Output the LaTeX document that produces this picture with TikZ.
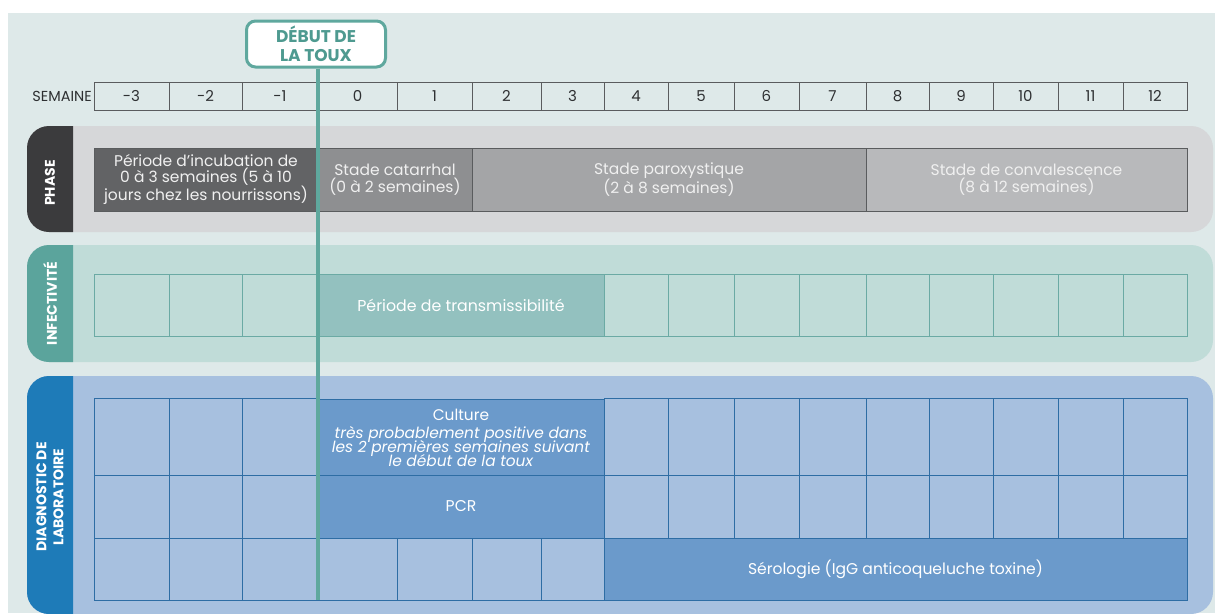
\documentclass[tikz,border=0pt]{standalone}
\usepackage{fontspec}
\setmainfont{Poppins}
\newcommand\mytightlines{\lineskiplimit=-20pt\relax\lineskip=0pt\relax}
\definecolor{bg}{HTML}{DEE9E9}
\definecolor{hdrline}{HTML}{5A5C5E}
\definecolor{dark}{HTML}{2E3032}
\definecolor{phband}{HTML}{D6D7D9}
\definecolor{phtab}{HTML}{3B3B3D}
\definecolor{phA}{HTML}{626365}
\definecolor{phB}{HTML}{8E8F91}
\definecolor{phC}{HTML}{A4A5A7}
\definecolor{phD}{HTML}{B8B9BB}
\definecolor{phtext}{HTML}{F0F0F0}
\definecolor{inband}{HTML}{C0DCD8}
\definecolor{intab}{HTML}{5BA49C}
\definecolor{inline}{HTML}{6BAAA4}
\definecolor{infill}{HTML}{93C1BF}
\definecolor{dgband}{HTML}{A7C0DF}
\definecolor{dgtab}{HTML}{1E7BB8}
\definecolor{dgline}{HTML}{2E6DA4}
\definecolor{dgfill}{HTML}{6B9ACB}
\definecolor{teal}{HTML}{5FA89E}
\definecolor{tealtext}{HTML}{4E9A90}
\begin{document}
\begin{tikzpicture}[x=1pt,y=-1pt,
  cellbase/.style={anchor=north west, inner sep=0pt, outer sep=0pt, align=center},
  wk/.style={cellbase, draw=hdrline, line width=0.8pt, fill=bg, minimum height=28pt,
    text=dark, font=\fontsize{15}{15}\selectfont},
  phbox/.style={cellbase, draw=hdrline, line width=0.8pt, minimum height=63pt,
    text=phtext, font=\fontsize{15.5}{16.5}\selectfont},
  incell/.style={cellbase, draw=inline, line width=0.8pt, minimum height=62pt,
    text=white, font=\fontsize{15.8}{17}\selectfont},
  dgcell/.style={cellbase, draw=dgline, line width=0.8pt,
    text=white, font=\fontsize{15.6}{17}\selectfont},
  tablabel/.style={rotate=90, text=white, align=center, inner sep=0pt,
    font=\fontsize{14}{16}\selectfont\bfseries},
  debutbox/.style={draw=teal, line width=3pt, fill=white, rounded corners=9pt,
    minimum width=139pt, minimum height=46pt, align=center, text=tealtext,
    font=\fontsize{17}{18.5}\selectfont\bfseries, inner sep=0pt},
  cough/.style={draw=teal, line width=4.5pt}
]
\useasboundingbox (0,0) rectangle (1215,613);
\clip (0,0) rectangle (1215,613);
\fill[white] (0,0) rectangle (1215,613);
\fill[bg] (8,13) rectangle (1215,613);

% ---- bands ----
\fill[phband, rounded corners=22pt] (27,126) rectangle (1213,232);
\begin{scope}
  \clip (20,120) rectangle (73,240);
  \fill[phtab, rounded corners=22pt] (27,126) rectangle (1213,232);
\end{scope}
\fill[inband, rounded corners=22pt] (27,245) rectangle (1213,362);
\begin{scope}
  \clip (20,240) rectangle (73,370);
  \fill[intab, rounded corners=22pt] (27,245) rectangle (1213,362);
\end{scope}
\fill[dgband, rounded corners=22pt] (27,376) rectangle (1213,614);
\begin{scope}
  \clip (20,370) rectangle (73,620);
  \fill[dgtab, rounded corners=22pt] (27,376) rectangle (1213,614);
\end{scope}

\node[tablabel] (tabphase) at (50,183) {PHASE};
\node[tablabel] (tabinf) at (50,303.5) {INFECTIVITÉ};
\node[tablabel, font=\fontsize{14}{17}\selectfont\bfseries] (tabdiag) at (50,497) {DIAGNOSTIC DE\\LABORATOIRE};

% ---- week header ----
\node[anchor=east, inner sep=0pt, text=dark, font=\fontsize{14.5}{15}\selectfont] (semaine) at (92,96) {SEMAINE};
\foreach \n/\a/\b/\t in {1/94/169/-3, 2/169/242/-2, 3/242/318/-1, 4/318/397/0, 5/397/472/1,
  6/472/541/2, 7/541/604/3, 8/604/668/4, 9/668/734/5, 10/734/799/6, 11/799/866/7,
  12/866/929/8, 13/929/993/9, 14/993/1058/10, 15/1058/1123/11, 16/1123/1187/12}{
  \node[wk, minimum width={\b-\a}] (w\n) at (\a,82) {\t};
}

% ---- phase row ----
\node[phbox, fill=phA, minimum width=224pt] (incub) at (94,148)
  {Période d’incubation de\\0 à 3 semaines (5 à 10\\jours chez les nourrissons)};
\node[phbox, fill=phB, minimum width=154pt] (catarrh) at (318,148)
  {Stade catarrhal\\(0 à 2 semaines)};
\node[phbox, fill=phC, minimum width=394pt] (parox) at (472,148)
  {Stade paroxystique\\(2 à 8 semaines)};
\node[phbox, fill=phD, minimum width=321pt] (conval) at (866,148)
  {Stade de convalescence\\(8 à 12 semaines)};

% ---- infectivity row ----
\foreach \n/\a/\b in {1/94/169, 2/169/242, 3/242/318, 8/604/668, 9/668/734, 10/734/799,
  11/799/866, 12/866/929, 13/929/993, 14/993/1058, 15/1058/1123, 16/1123/1187}{
  \node[incell, minimum width={\b-\a}] (i\n) at (\a,274) {};
}
\node[incell, fill=infill, minimum width=286pt] (trans) at (318,274)
  {Période de transmissibilité};

% ---- laboratory rows ----
\foreach \n/\a/\b in {1/94/169, 2/169/242, 3/242/318, 8/604/668, 9/668/734, 10/734/799,
  11/799/866, 12/866/929, 13/929/993, 14/993/1058, 15/1058/1123, 16/1123/1187}{
  \node[dgcell, minimum width={\b-\a}, minimum height=77pt] (r\n) at (\a,398) {};
  \node[dgcell, minimum width={\b-\a}, minimum height=63pt] (p\n) at (\a,475) {};
}
\foreach \n/\a/\b in {1/94/169, 2/169/242, 3/242/318, 4/318/397, 5/397/472, 6/472/541, 7/541/604}{
  \node[dgcell, minimum width={\b-\a}, minimum height=62pt] (s\n) at (\a,538) {};
}
\node[dgcell, fill=dgfill, minimum width=286pt, minimum height=77pt,
  font=\fontsize{15.4}{14}\selectfont\mytightlines] (culture) at (318,399)
  {Culture\\[4pt]\textit{très probablement positive dans}\\\textit{les 2 premières semaines suivant}\\\textit{le début de la toux}};
\node[dgcell, fill=dgfill, minimum width=286pt, minimum height=63pt] (pcr) at (318,475) {PCR};
\node[dgcell, fill=dgfill, minimum width=583pt, minimum height=62pt] (sero) at (604,538)
  {Sérologie (IgG anticoqueluche toxine)};

% ---- cough onset marker ----
\node[debutbox] (debut) at (316,44) {DÉBUT DE\\LA TOUX};
\coordinate (lineend) at (318,600);
\draw[cough] (debut.south -| lineend) -- (lineend);
\end{tikzpicture}
\end{document}
